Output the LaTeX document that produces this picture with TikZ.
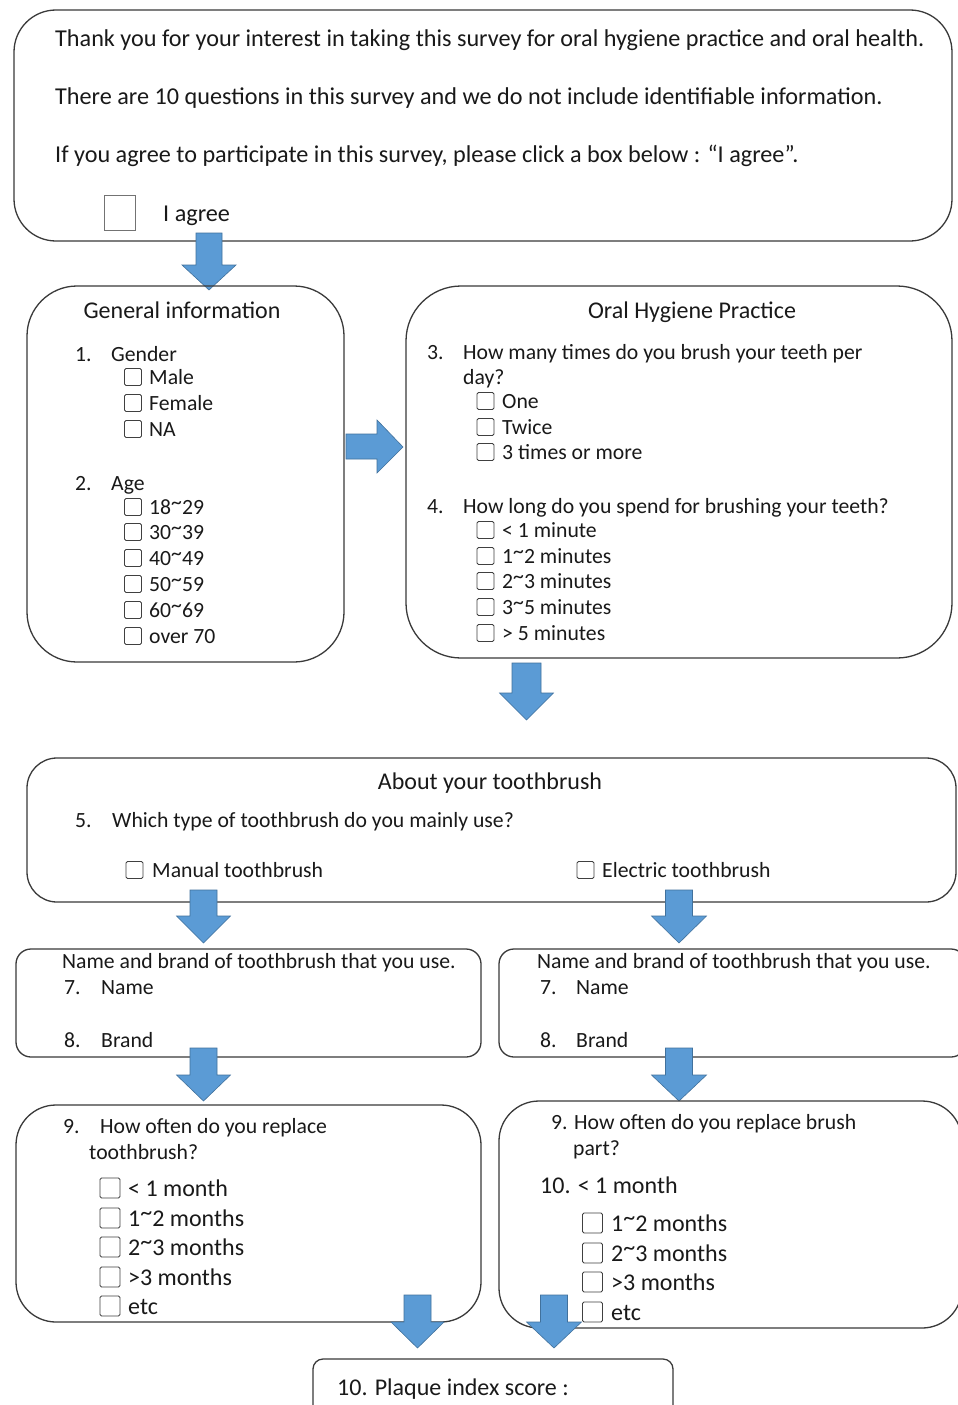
\documentclass[tikz,border=0pt]{standalone}
\usepackage{fontspec}
\setmainfont{Carlito}
\definecolor{boxc}{HTML}{3A3A3A}
\definecolor{cbc}{HTML}{404040}
\definecolor{arrfill}{HTML}{5B9BD5}
\definecolor{arrdraw}{HTML}{41719C}
\newcommand{\fbody}{\fontsize{21.7}{25}\selectfont}
\newcommand{\flarge}{\fontsize{24}{28}\selectfont}
\newcommand{\ftop}{\fontsize{24.2}{28}\selectfont}
\newcommand{\tl}{\raisebox{0.22em}{\char`~}}
\newcommand{\barrowdown}[7]{%
  \draw[blockarrow] ({#2-#6},#3) -- ({#2+#6},#3) -- ({#2+#6},#4) -- ({#2+#7},#4) -- (#2,#5) -- ({#2-#7},#4) -- ({#2-#6},#4) -- cycle;
  \coordinate (#1) at (#2,#5);}
\tikzset{
  panel/.style={draw=boxc, line width=1.3pt, fill=none},
  cbox/.style={draw=cbc, line width=0.9pt, minimum width=17pt, minimum height=17pt, inner sep=0pt, rounded corners=1.5pt},
  cboxl/.style={cbox, minimum width=20pt, minimum height=20pt},
  txt/.style={anchor=base west, inner sep=0pt, font=\fbody, text=black!90},
  txtl/.style={txt, font=\flarge},
  txtt/.style={txt, font=\ftop},
  ttl/.style={anchor=base, inner sep=0pt, font=\flarge, text=black!90},
  blockarrow/.style={fill=arrfill, draw=arrdraw, line width=0.6pt, line join=miter}
}
\begin{document}
\begin{tikzpicture}[x=1pt,y=-1pt]
\useasboundingbox (0,0) rectangle (958,1405);
\fill[white] (0,0) rectangle (958,1405);

% ---------- top box ----------
\draw[panel, rounded corners=42pt] (14,10) rectangle (952,241);
\node[txtt] (t1) at (55,47) {Thank you for your interest in taking this survey for oral hygiene practice and oral health.};
\node[txtt] (t2) at (55,104) {There are 10 questions in this survey and we do not include identifiable information.};
\node[txtt] (t3) at (55,162) {If you agree to participate in this survey, please click a box below : “I agree”.};
\node[draw=black!55, line width=1pt, minimum width=31pt, minimum height=35pt, inner sep=0pt] (agreebox) at (119.5,212.5) {};
\node[txtt] (agree) at (163,221) {I agree};

\barrowdown{a1}{209}{233}{265}{290}{13}{27}

% ---------- General information ----------
\draw[panel, rounded corners=50pt] (27,286) rectangle (344,662);
\node[ttl] (gi) at (182,318) {General information};
\node[txt] (q1n) at (75,361) {1.};
\node[txt] (q1) at (111,361) {Gender};
\foreach \yy/\lab/\nm in {377/Male/g1,403/Female/g2,429/NA/g3}{
  \node[cbox] (cb\nm) at (133,\yy) {};
  \node[txt] (tx\nm) at (149,\yy+7) {\lab};
}
\node[txt] (q2n) at (75,490) {2.};
\node[txt] (q2) at (111,490) {Age};
\foreach \yy/\lab/\nm in {507/18\tl29/a1,532/30\tl39/a2,558/40\tl49/a3,584/50\tl59/a4,610/60\tl69/a5,636/over 70/a6}{
  \node[cbox] (cb\nm) at (133,\yy) {};
  \node[txt] (tx\nm) at (149,\yy+7) {\lab};
}

% right arrow
\draw[blockarrow] (346,434) -- (377,434) -- (377,420) -- (403,447) -- (377,473) -- (377,459) -- (346,459) -- cycle;
\coordinate (a2) at (403,447);

% ---------- Oral Hygiene Practice ----------
\draw[panel, rounded corners=55pt] (406,286) rectangle (952,658);
\node[ttl] (ohp) at (692,318) {Oral Hygiene Practice};
\node[txt] (q3n) at (427,359) {3.};
\node[txt] (q3) at (463,359) {How many times do you brush your teeth per};
\node[txt] (q3b) at (463,384) {day?};
\foreach \yy/\lab/\nm in {401/One/b1,427/Twice/b2,452/3 times or more/b3}{
  \node[cbox] (cb\nm) at (485.5,\yy) {};
  \node[txt] (tx\nm) at (502,\yy+7) {\lab};
}
\node[txt] (q4n) at (427,513) {4.};
\node[txt] (q4) at (463,513) {How long do you spend for brushing your teeth?};
\foreach \yy/\lab/\nm in {530/< 1 minute/c1,556/1\tl2 minutes/c2,581/2\tl3 minutes/c3,607/3\tl5 minutes/c4,633/> 5 minutes/c5}{
  \node[cbox] (cb\nm) at (485.5,\yy) {};
  \node[txt] (tx\nm) at (502,\yy+7) {\lab};
}

\barrowdown{a3}{526.5}{663}{693}{720}{14.5}{27}

% ---------- About your toothbrush ----------
\draw[panel, rounded corners=30pt] (27,758) rectangle (956,902);
\node[ttl] (ayt) at (490,789) {About your toothbrush};
\node[txt] (q5n) at (75,827) {5.};
\node[txt] (q5) at (112,827) {Which type of toothbrush do you mainly use?};
\node[cbox] (cbman) at (134.5,870) {};
\node[txt] (man) at (152,877) {Manual toothbrush};
\node[cbox] (cbele) at (585.5,870) {};
\node[txt] (ele) at (602,877) {Electric toothbrush};

\barrowdown{a4}{203.5}{890}{916}{943}{13.5}{27}
\barrowdown{a5}{679}{890}{916}{943}{13.5}{27.5}

% ---------- Name/brand boxes ----------
\draw[panel, rounded corners=15pt] (16,949) rectangle (481,1057);
\node[txt] (nb1) at (62,968) {Name and brand of toothbrush that you use.};
\node[txt] (q7n) at (64,994) {7.};
\node[txt] (q7) at (101,994) {Name};
\node[txt] (q8n) at (64,1047) {8.};
\node[txt] (q8) at (101,1047) {Brand};

\draw[panel, rounded corners=15pt] (499,949) rectangle (966,1057);
\node[txt] (nb2) at (537,968) {Name and brand of toothbrush that you use.};
\node[txt] (r7n) at (540,994) {7.};
\node[txt] (r7) at (576,994) {Name};
\node[txt] (r8n) at (540,1047) {8.};
\node[txt] (r8) at (576,1047) {Brand};

\barrowdown{a6}{203.5}{1048}{1075}{1101}{13.5}{27}
\barrowdown{a7}{679}{1048}{1075}{1101}{13.5}{27.5}

% ---------- Replacement boxes ----------
\draw[panel, rounded corners=40pt] (16,1105) rectangle (481,1322);
\node[txt] (q9n) at (63,1133) {9.};
\node[txt] (q9) at (100,1133) {How often do you replace};
\node[txt] (q9b) at (89,1159) {toothbrush?};
\foreach \yy/\lab/\nm in {1188/< 1 month/d1,1218/1\tl2 months/d2,1247/2\tl3 months/d3,1277/>3 months/d4,1306/etc/d5}{
  \node[cboxl] (cb\nm) at (110,\yy) {};
  \node[txtl] (tx\nm) at (128,\yy+8) {\lab};
}

\draw[panel, rounded corners=40pt] (499,1101) rectangle (962,1328);
\node[txt] (s9) at (551,1129) {9. How often do you replace brush};
\node[txt] (s9b) at (573,1155) {part?};
\node[txtl] (s10) at (540,1193) {10. < 1 month};
\foreach \yy/\lab/\nm in {1223/1\tl2 months/e1,1253/2\tl3 months/e2,1282/>3 months/e3,1312/etc/e4}{
  \node[cboxl] (cb\nm) at (592.5,\yy) {};
  \node[txtl] (tx\nm) at (611,\yy+8) {\lab};
}

\barrowdown{a8}{417.5}{1295}{1322}{1348}{13.5}{26.5}
\barrowdown{a9}{554}{1295}{1322}{1348}{13.5}{27.5}

% ---------- Plaque ----------
\draw[panel, rounded corners=10pt] (313,1359) rectangle (673,1420);
\node[txtl] (pl) at (337,1395) {10. Plaque index score :};
\end{tikzpicture}
\end{document}
